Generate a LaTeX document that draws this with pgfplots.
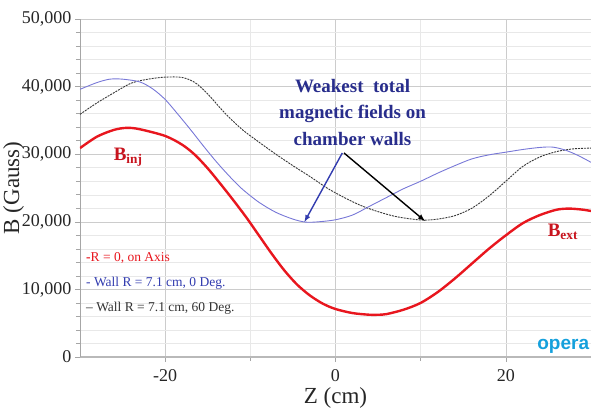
\documentclass[border=0pt]{standalone}
\usepackage{fontspec}
\setmainfont{Liberation Serif}
\newfontfamily\logofont{Liberation Sans}
\usepackage{pgfplots}
\pgfplotsset{compat=1.18}
\usepackage{pgfplotstable}
\definecolor{cred}{RGB}{232,22,30}
\definecolor{clabred}{RGB}{200,20,30}
\definecolor{cblue}{RGB}{120,120,215}
\definecolor{cblk}{RGB}{55,55,55}
\definecolor{cnavy}{RGB}{40,45,140}
\definecolor{carrow}{RGB}{50,60,175}
\definecolor{copera}{RGB}{20,160,220}

\pgfplotstableread{
z B
-30 30900
-28 32600
-26 33600
-24.5 33900
-23 33700
-20 32700
-18 31400
-16.5 29900
-15 27900
-13.5 25600
-12 23200
-10.5 20700
-9 18000
-7.5 15300
-6 12800
-4.5 10700
-3 9100
-1.5 7900
0 7100
2 6500
4 6250
5 6250
6 6350
8 7000
10 8000
12 9600
14 11600
16 13800
18 16000
20 18000
22 19800
24 21000
26 21800
27.5 21950
29 21800
30 21600
}\redtab

\pgfplotstableread{
z B
-30 39600
-28 40600
-26.5 41100
-25 41100
-23 40700
-21.5 39700
-20 38100
-18.5 35900
-17 33600
-15.5 31200
-14 28900
-12.5 26800
-11 24900
-9 22900
-7 21400
-5 20400
-3.5 19950
-2 20000
0 20300
2 21000
4 22300
6 23600
8 24900
10 26000
12 27200
14 28300
16 29300
18 29900
20 30300
22 30700
24 31000
25.5 31050
27 30600
28.5 29800
30 28800
}\bluetab

\pgfplotstableread{
z B
-30 35900
-28 37600
-26 39100
-24 40500
-22 41100
-20 41400
-18 41350
-16.5 40600
-15 38900
-13 36100
-11 33700
-9 31800
-7 30000
-5 28300
-3 26700
-1 25000
1 23600
3 22400
5 21500
7 20800
9 20400
10.5 20250
12 20400
14 20900
16 22000
18 23800
20 26000
22 28200
24 29600
26 30400
28 30800
30 30900
}\blacktab

\begin{document}
\begin{tikzpicture}
\useasboundingbox (-80pt,-51pt) rectangle (511pt,357pt);
\begin{axis}[
  at={(0,0)}, anchor=south west,
  scale only axis, width=511pt, height=338pt,
  xmin=-30, xmax=30, ymin=0, ymax=50000,
  xtick={-20,0,20}, ytick={0,10000,20000,30000,40000,50000},
  minor x tick num=1, minor y tick num=4,
  grid=both,
  major grid style={gray!40, line width=0.5pt},
  minor grid style={gray!18, line width=0.5pt},
  axis x line=bottom, axis y line=left,
  axis line style={-, gray!70},
  x axis line style={line width=1.6pt, gray!55},
  tick style={gray!70, line width=0.6pt},
  tick align=outside,
  major tick length=5pt, minor tick length=4pt,
  /pgf/number format/assume math mode=true,
  /pgf/number format/1000 sep={,},
  scaled y ticks=false,
  tick label style={font=\fontsize{18}{20}\selectfont, text=black!85},
  xticklabel style={yshift=-4pt},
  xlabel={Z (cm)}, ylabel={B (Gauss)},
  label style={font=\fontsize{23}{25}\selectfont, text=black!85},
  xlabel style={at={(axis description cs:0.5,-0.12)}, anchor=center},
  ylabel style={at={(axis description cs:-0.13,0.5)}, anchor=center},
]
\addplot[cblk, line width=0.9pt, dash pattern=on 2pt off 1pt, smooth] table[x=z,y=B]{\blacktab};
\addplot[cblue, line width=0.9pt, smooth] table[x=z,y=B]{\bluetab};
\addplot[cred, line width=2.4pt, smooth] table[x=z,y=B]{\redtab};

\node[font=\fontsize{19}{26.5}\selectfont\bfseries, text=cnavy, align=center] at (axis cs:2.0,36200) {Weakest\ \ total\\magnetic fields on\\chamber walls};
\draw[-latex, carrow, line width=1.4pt] (axis cs:0.8,30180) -- (axis cs:-3.65,19970);
\draw[-latex, black, line width=1.4pt] (axis cs:1.0,30180) -- (axis cs:10.5,20120);

\node[font=\fontsize{19}{20}\selectfont\bfseries, text=clabred] at (axis cs:-24.35,29590) {B\textsubscript{inj}};
\node[font=\fontsize{19}{20}\selectfont\bfseries, text=clabred] at (axis cs:26.7,18490) {B\textsubscript{ext}};

\node[anchor=west, font=\fontsize{13.5}{15}\selectfont, text=cred, inner sep=0pt] at (axis cs:-29.3,14640) {\textbf{-}R = 0, on Axis};
\node[anchor=west, font=\fontsize{13.5}{15}\selectfont, text=carrow, inner sep=0pt] at (axis cs:-29.3,10950) {- Wall R = 7.1 cm, 0 Deg.};
\node[anchor=west, font=\fontsize{13.5}{15}\selectfont, text=black!80, inner sep=0pt] at (axis cs:-29.3,7250) {-- Wall R = 7.1 cm, 60 Deg.};

\node[anchor=east, font=\logofont\bfseries\fontsize{19}{20}\selectfont, text=copera, inner sep=0pt] at (axis cs:29.8,1600) {opera};
\end{axis}
\end{tikzpicture}
\end{document}
